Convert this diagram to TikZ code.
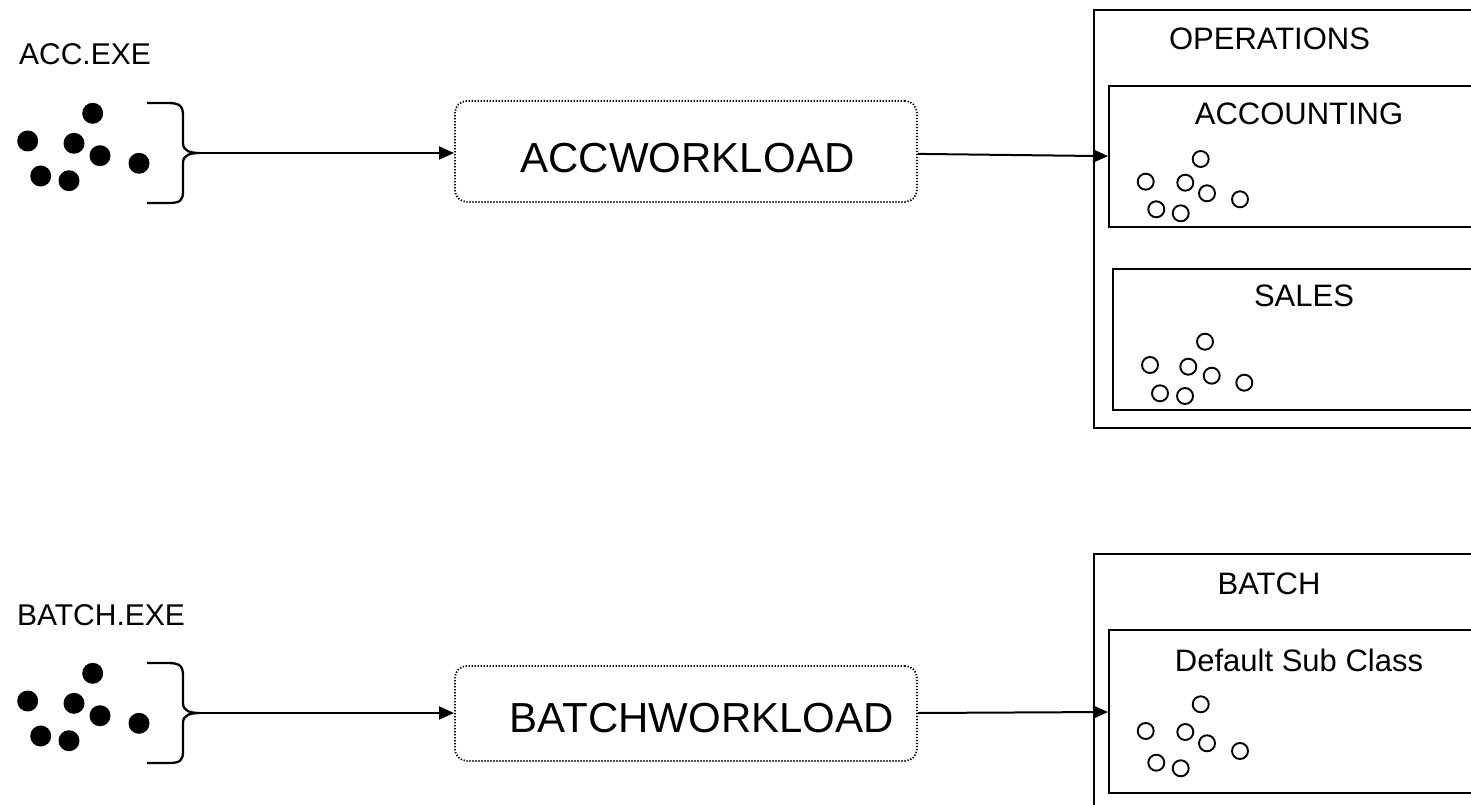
\documentclass[tikz,border=0pt]{standalone}
\usepackage{fontspec}
\setmainfont{Liberation Sans}
\usetikzlibrary{arrows.meta}
\tikzset{
  lbl/.style={anchor=base, inner sep=0pt, font=\fontsize{31}{36}\selectfont},
  exelbl/.style={anchor=base, inner sep=0pt, font=\fontsize{30}{36}\selectfont},
  wltext/.style={anchor=base, inner sep=0pt, font=\fontsize{42}{50}\selectfont},
  classbox/.style={draw, line width=2.3pt, rectangle, inner sep=0pt, anchor=north west},
  wlbox/.style={draw, line width=1.8pt, dash pattern=on 1.3pt off 1.7pt, rounded corners=12pt, rectangle, inner sep=0pt, anchor=north west},
  conn/.style={line width=2pt, -{Triangle[length=15pt,width=13pt]}},
  bracepath/.style={line width=2.3pt},
  bigdot/.style={fill=black, draw=none},
  smalldot/.style={draw, line width=1.9pt, fill=white},
}
\newcommand{\procdots}[1]{%
  \foreach \px/\py in {92.7/113.3, 27.7/141, 74/143.3, 100/155.7, 139/163.3, 40.7/176, 69/180.7}{
    \fill[bigdot] (\px,\py+#1) circle (10.5pt);
  }%
}
\newcommand{\classdots}[3]{%
  \foreach \px/\py in {#3}{
    \draw[smalldot] (\px+#1,\py+#2) circle (8pt);
  }%
}
\newcommand{\mybrace}[2]{%
  \draw[bracepath] (147,103+#1) -- (168,103+#1)
    .. controls (180,103+#1) and (183,106+#1) .. (183,116+#1)
    -- (183,143+#1)
    .. controls (183,151+#1) and (190,153+#1) .. (200,153+#1)
    .. controls (190,153+#1) and (183,155+#1) .. (183,163+#1)
    -- (183,191+#1)
    .. controls (183,201+#1) and (180,203+#1) .. (168,203+#1)
    -- (147,203+#1);
  \coordinate (#2) at (200,153+#1);
}
\begin{document}
\begin{tikzpicture}[x=1pt,y=-1pt]
\useasboundingbox (0,0) rectangle (1471,805);
\clip (0,0) rectangle (1471,805);
\fill[white] (0,0) rectangle (1471,805);

% ---------- top row ----------
\node[exelbl] (accexe) at (85,65) {ACC.EXE};
\procdots{0}
\mybrace{0}{acctip}

\node[wlbox, minimum width=462pt, minimum height=101pt] (accwl) at (454,100) {};
\node[wltext] (accwltext) at (687.5,173) {ACCWORKLOAD};

\node[classbox, minimum width=400pt, minimum height=418pt] (ops) at (1093,9) {};
\node[lbl] (opstext) at (1269.5,50) {OPERATIONS};
\node[classbox, minimum width=385pt, minimum height=141pt] (accounting) at (1108,85) {};
\node[lbl] (accountingtext) at (1299,125) {ACCOUNTING};
\node[classbox, minimum width=381pt, minimum height=141pt] (sales) at (1112,268) {};
\node[lbl] (salestext) at (1304,306.7) {SALES};

\classdots{0}{0}{1200.7/159, 1145.7/181.7, 1185.3/182.7, 1207/193.3, 1240/199.3, 1156.3/209.3, 1180.7/213.3}
\classdots{0}{0}{1205/341.7, 1150/365, 1188.3/366.7, 1211.7/375.7, 1244.3/382.7, 1160/393.3, 1185/396}

\draw[conn] (acctip) -- (acctip -| accwl.west);
\draw[conn] ([yshift=-2.5pt]accwl.east) -- ([yshift=0.5pt]accounting.west);

% ---------- bottom row ----------
\node[exelbl] (batchexe) at (101,625) {BATCH.EXE};
\procdots{560}
\mybrace{560}{batchtip}

\node[wlbox, minimum width=462pt, minimum height=95pt] (batchwl) at (454,665) {};
\node[wltext] (batchwltext) at (701.7,732.7) {BATCHWORKLOAD};

\node[classbox, minimum width=400pt, minimum height=270pt] (batch) at (1093,553) {};
\node[lbl] (batchtext) at (1269,594.3) {BATCH};
\node[classbox, minimum width=385pt, minimum height=163pt] (default) at (1108,629) {};
\node[lbl] (defaulttext) at (1299,671.7) {Default Sub Class};

\classdots{0}{0}{1200.7/704.3, 1145.7/731, 1185.3/732, 1207/743.3, 1240/751, 1156.3/762.7, 1180.7/768.3}

\draw[conn] (batchtip) -- (batchtip -| batchwl.west);
\draw[conn] (batchwl.east |- 0,713) -- (default.west |- 0,712);
\end{tikzpicture}
\end{document}
